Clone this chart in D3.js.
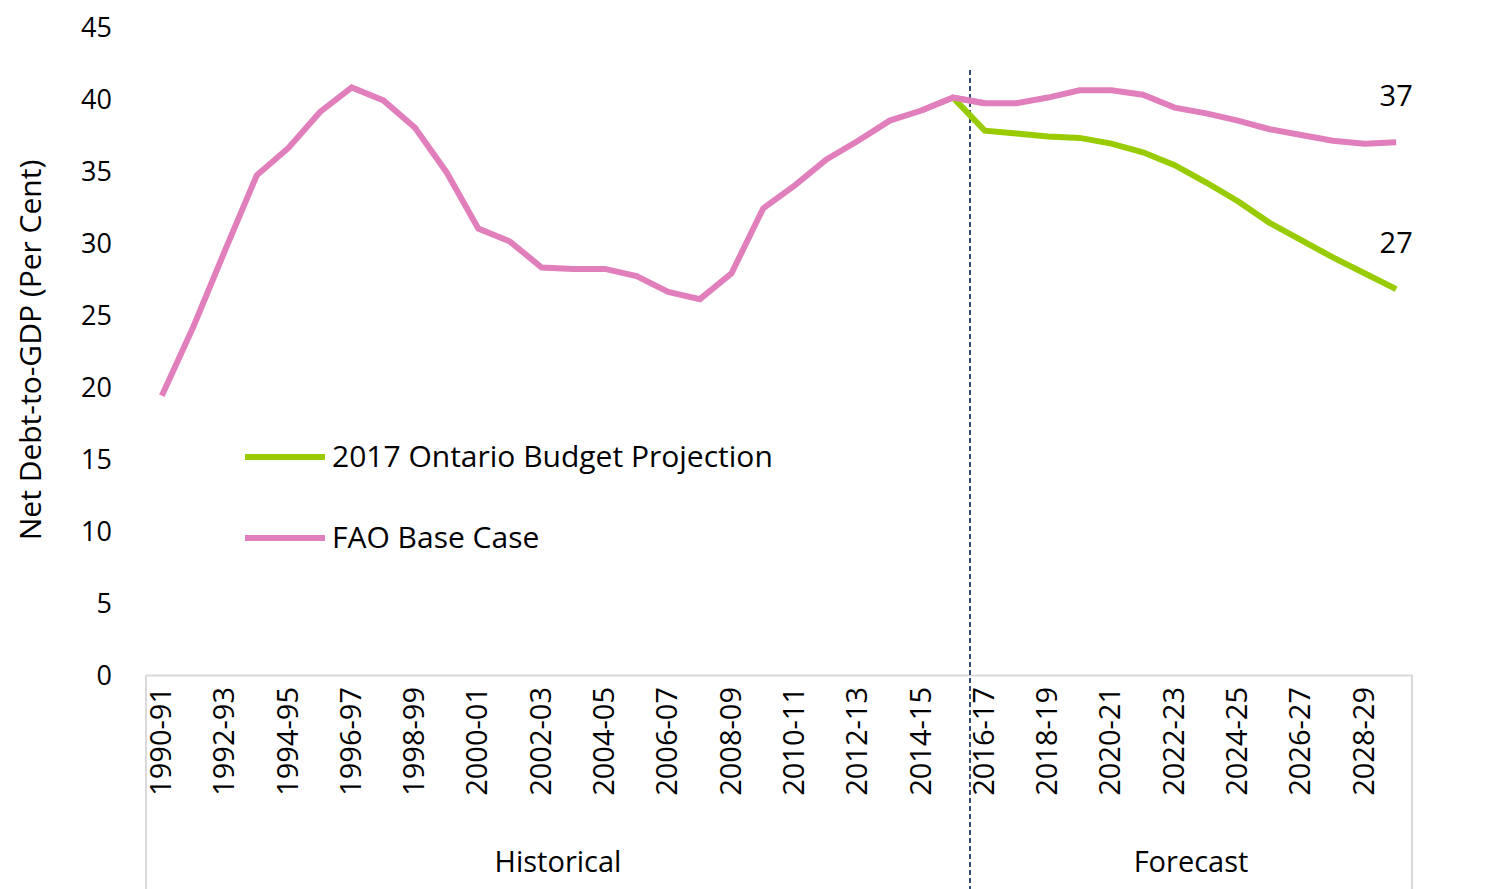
<!DOCTYPE html>
<html><head><meta charset="utf-8">
<script src="https://cdn.jsdelivr.net/npm/d3@7"></script>
<style>body{margin:0;background:#fff}text{font-family:"Open Sans","Noto Sans",sans-serif;fill:#000}</style>
</head><body><div id="chart"></div>
<script>
var years = [];
for (var y = 1990; y <= 2029; y++) years.push(y + '-' + String((y + 1) % 100).padStart(2, '0'));
var faoBase = [19.4,24.2,29.5,34.7,36.6,39.1,40.8,39.9,38.0,34.9,31.0,30.1,28.3,28.2,28.2,27.7,26.6,26.1,27.9,32.4,
  34.0,35.8,37.1,38.5,39.2,40.1,39.7,39.7,40.1,40.6,40.6,40.3,39.4,39.0,38.5,37.9,37.5,37.1,36.9,37.0];
var budgetYears = years.slice(25);
var budget = [40.1,37.8,37.6,37.4,37.3,36.9,36.3,35.4,34.2,32.9,31.4,30.2,29.0,27.9,26.8];
var yTicks = [0,5,10,15,20,25,30,35,40,45];

var svg = d3.select('#chart').append('svg').attr('width',1500).attr('height',889);
var x = d3.scaleBand().domain(years).range([146,1412]);
var yS = d3.scaleLinear().domain([0,45]).range([675,27]);
var cx = function(d){ return x(d) + x.bandwidth()/2; };

// y tick labels
svg.selectAll('.yt').data(yTicks).enter().append('text')
  .attr('x',112).attr('y',d => yS(d)+10).attr('text-anchor','end')
  .style('font-size','27px').text(d => d);
svg.append('text').attr('transform','translate(41,350) rotate(-90)')
  .attr('text-anchor','middle').style('font-size','30px').text('Net Debt-to-GDP (Per Cent)');

// x axis
var xAxis = d3.axisBottom(x).tickValues(years.filter((d,i) => i%2==0)).tickSize(0).tickPadding(0);
var gx = svg.append('g').attr('transform','translate(0,675)').call(xAxis);
gx.select('.domain').attr('stroke','#d9d9d9').attr('stroke-width',2);
gx.selectAll('text').attr('transform','rotate(-90)').attr('x',-12).attr('y',-1).attr('dy','0.35em')
  .attr('text-anchor','end').style('font-size','29px').style('font-family','"Open Sans",sans-serif').attr('fill','#000');
[146,1412].forEach(function(p){
  svg.append('line').attr('x1',p).attr('x2',p).attr('y1',675).attr('y2',889).attr('stroke','#d9d9d9').attr('stroke-width',2);
});
svg.append('line').attr('x1',970).attr('x2',970).attr('y1',70).attr('y2',889)
  .attr('stroke','#1f3864').attr('stroke-width',1.8).attr('stroke-dasharray','5,3');
svg.append('text').attr('x',558).attr('y',872).attr('text-anchor','middle').style('font-size','29px').text('Historical');
svg.append('text').attr('x',1191).attr('y',872).attr('text-anchor','middle').style('font-size','29px').text('Forecast');

var line = d3.line().x(d => cx(d[0])).y(d => yS(d[1]));
svg.append('path').datum(years.map((d,i) => [d,faoBase[i]])).attr('d',line)
  .attr('fill','none').attr('stroke','#e07fbb').attr('stroke-width',6);
svg.append('path').datum(budgetYears.map((d,i) => [d,budget[i]])).attr('d',line)
  .attr('fill','none').attr('stroke','#99cc00').attr('stroke-width',6);
// re-draw pink near the junction so it sits above green
svg.append('path').datum(years.slice(24,27).map((d,i) => [d,faoBase[24+i]])).attr('d',line)
  .attr('fill','none').attr('stroke','#e07fbb').attr('stroke-width',6);

var last = years[years.length-1];
svg.append('text').attr('x',cx(last)).attr('y',yS(faoBase[39])-36).attr('text-anchor','middle').style('font-size','29px').text('37');
svg.append('text').attr('x',cx(last)).attr('y',yS(budget[14])-36).attr('text-anchor','middle').style('font-size','29px').text('27');

var legend = [['2017 Ontario Budget Projection','#99cc00',457],['FAO Base Case','#e07fbb',538]];
legend.forEach(function(l){
  svg.append('line').attr('x1',245).attr('x2',325).attr('y1',l[2]).attr('y2',l[2]).attr('stroke',l[1]).attr('stroke-width',6);
  svg.append('text').attr('x',332).attr('y',l[2]+10).style('font-size','30px').text(l[0]);
});
</script></body></html>
